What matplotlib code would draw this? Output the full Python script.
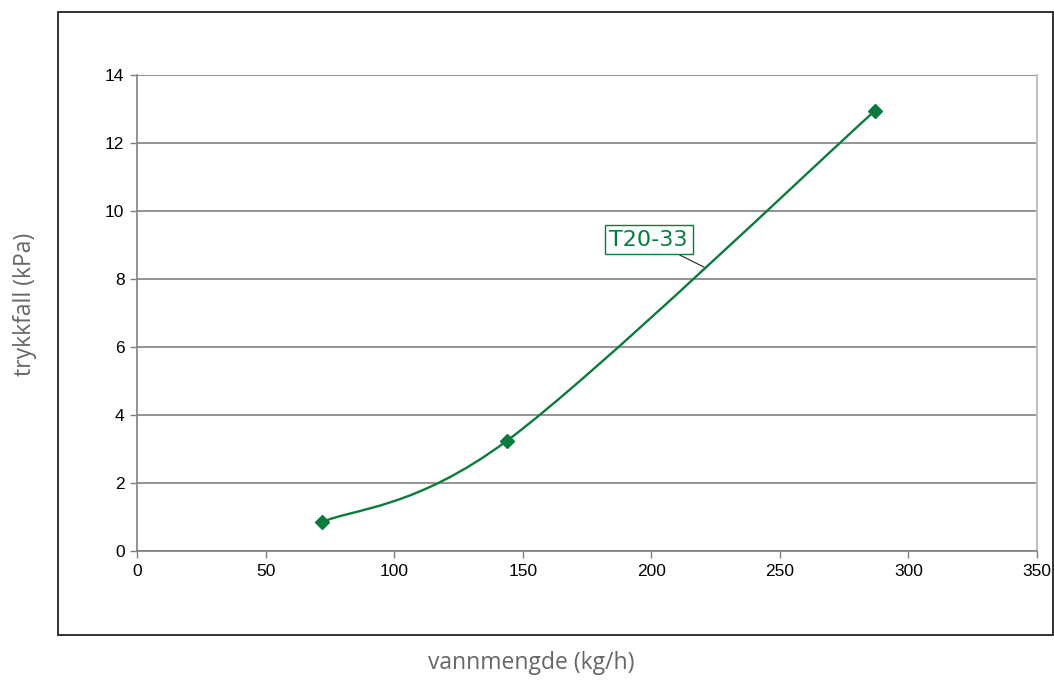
import numpy as np
import matplotlib
matplotlib.use('Agg')
from matplotlib import pyplot as plt
from matplotlib.path import Path
from matplotlib.patches import PathPatch, Rectangle

# vannmengde (kg/h) og trykkfall (kPa)
flow = [72, 144, 287]
dp = [0.85, 3.25, 12.95]
series_name = 'T20-33'
x_ticks = [0, 50, 100, 150, 200, 250, 300, 350]
y_ticks = [0, 2, 4, 6, 8, 10, 12, 14]

green = '#0b7a3d'
grid_col = '#808080'

plt.rcParams['font.family'] = ['Liberation Sans', 'DejaVu Sans']

fig = plt.figure(figsize=(10.54, 6.8), dpi=100)
ax = fig.add_axes([137 / 1054, 1 - 551 / 680, 900 / 1054, 476 / 680])

# ytre ramme
fig.patches.append(Rectangle((58 / 1054, 1 - 635 / 680), 995 / 1054, 623 / 680,
                             transform=fig.transFigure, fill=False,
                             edgecolor='#222222', lw=1.3, zorder=0))

# glattet linje (Excel-stil, Bezier)
pts = np.column_stack([flow, dp])
verts = [tuple(pts[0])]
codes = [Path.MOVETO]
n = len(pts)
for i in range(n - 1):
    p_prev = pts[max(i - 1, 0)]
    p0 = pts[i]
    p1 = pts[i + 1]
    p_next = pts[min(i + 2, n - 1)]
    c1 = p0 + (p1 - p_prev) / 6
    c2 = p1 - (p_next - p0) / 6
    verts += [tuple(c1), tuple(c2), tuple(p1)]
    codes += [Path.CURVE4] * 3
ax.add_patch(PathPatch(Path(verts, codes), facecolor='none', edgecolor=green,
                       lw=1.7, zorder=3))
ax.plot(flow, dp, linestyle='none', marker='D', ms=7.5, color=green, zorder=4)

ax.annotate(series_name, xy=(220.5, 8.35), xytext=(199, 9.16),
            ha='center', va='center', fontsize=16, color=green,
            family='DejaVu Sans',
            bbox=dict(boxstyle='square,pad=0.22', fc='white', ec=green, lw=1),
            arrowprops=dict(arrowstyle='-', color='#222222', lw=0.8,
                            shrinkA=0, shrinkB=0))

ax.set_xlim(0, 350)
ax.set_ylim(0, 14)
ax.set_xticks(x_ticks)
ax.set_yticks(y_ticks)
ax.tick_params(labelsize=12.5, colors='#000000', length=5, width=1,
               color=grid_col, pad=4)
ax.grid(axis='y', color=grid_col, lw=1.2)
ax.set_axisbelow(True)
for s in ['left', 'bottom']:
    ax.spines[s].set_color(grid_col)
    ax.spines[s].set_linewidth(1.2)
ax.spines['top'].set_visible(False)
ax.spines['right'].set_color('#c0c0c0')
ax.spines['right'].set_linewidth(1.5)

fig.text(25 / 1054, 1 - 304 / 680, 'trykkfall (kPa)', rotation=90,
         ha='center', va='center', fontsize=16.5, color='#666666',
         family='Open Sans')
fig.text(531 / 1054, 1 - 663 / 680, 'vannmengde (kg/h)',
         ha='center', va='center', fontsize=16.5, color='#666666',
         family='Open Sans')

fig.savefig('out.png', dpi=100)
